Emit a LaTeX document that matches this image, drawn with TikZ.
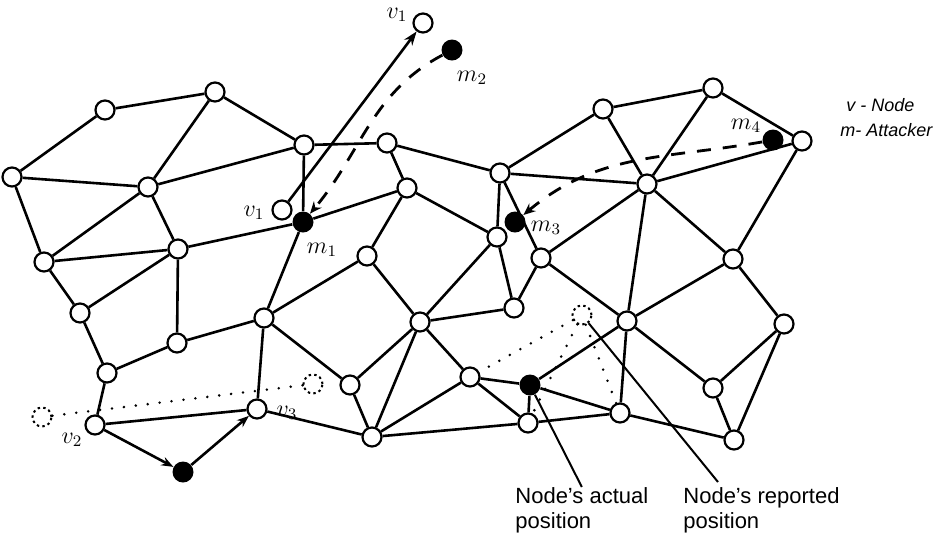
\documentclass[tikz,border=0pt]{standalone}
\usepackage{fontspec}
\setsansfont{Liberation Sans}
\usetikzlibrary{arrows.meta}

\tikzset{
  nd/.style={circle, draw, fill=white, line width=1.1pt, minimum size=9.5pt, inner sep=0pt},
  atk/.style={circle, fill=black, minimum size=10.5pt, inner sep=0pt},
  ghost/.style={circle, draw, line width=1pt, dash pattern=on 1.2pt off 1.6pt, minimum size=9.5pt, inner sep=0pt},
  lnk/.style={line width=1.3pt},
  mv/.style={line width=1.4pt, dash pattern=on 7pt off 6pt, -{Stealth[length=6pt,width=5pt]}},
  dots/.style={line width=1.4pt, line cap=round, dash pattern=on 0pt off 6pt},
  ptr/.style={line width=1pt},
  lbl/.style={font=\sffamily\fontsize{11}{12.5}\selectfont, align=left, inner sep=0pt},
  leg/.style={font=\sffamily\itshape\fontsize{9}{10}\selectfont, inner sep=0pt},
  tag/.style={font=\large, inner sep=0pt}
}

\begin{document}
\begin{tikzpicture}[x=0.5pt, y=-0.5pt]
  \useasboundingbox (0,0) rectangle (939,538);

  % honest nodes of the network
  \foreach \n/\x/\y in {a1/105/110, a2/215/92, a3/12/177, a4/148/187, a5/44/262,
      a6/178/249, a7/80/313, a8/177/343, a9/107/373, v2/95/425, v3/257/409,
      b1/304/145, b2/387/143, b3/407/188, b4/367/256, b5/264/318, b6/420/322,
      b7/350/385, b8/372/437, b9/470/377,
      c1/500/173, c2/497/237, c3/541/258, c4/514/308, c5/528/423,
      d1/603/109, d2/713/88, d3/647/184, d4/802/141, d5/733/259, d6/627/321,
      d7/784/324, d8/713/388, d9/620/413, d10/734/440,
      v1s/282/210, v1t/423/23}
    \node[nd] (\n) at (\x,\y) {};

  % attackers
  \foreach \n/\x/\y in {m1/303/222, m2/452/50, m3/515/222, m4/773/140, act/530/385, atk/183/472}
    \node[atk] (\n) at (\x,\y) {};

  % forged positions
  \foreach \n/\x/\y in {g1/42/417, g2/313/384, g3/582/315}
    \node[ghost] (\n) at (\x,\y) {};

  % links
  \foreach \a/\b in {a1/a2, a1/a3, a2/a4, a2/b1, a3/a4, a4/b1, a3/a5, a5/a4, a4/a6, a5/a6,
      a6/m1, a5/a7, a6/a7, a6/a8, a7/a9, a8/a9, a8/b5, a9/v2, v2/v3, b5/v3, b5/m1,
      b5/b4, b5/b7, b1/m1, b1/b2, b2/b3, b2/c1, b3/m1, b3/c2, b3/b4, b4/b6, b6/c2,
      b6/c4, c2/c4, c3/c4, c1/c2, c1/c3, c1/d1, c1/d3, d1/d2, d1/d3, d2/d3, d2/d4,
      d3/d4, c3/d3, c3/d6, d3/d6, d3/d5, d4/d5, d5/d6, d5/d7, d6/d8, d7/d8, d7/d10,
      d8/d10, d6/d9, d9/d10, b6/b7, b6/b8, b6/b9, b7/b8, v3/b8, b8/b9, b8/c5, b9/c5,
      b9/act, act/d6, act/d9, act/c5, c5/d9}
    \draw[lnk] (\a) -- (\b);

  % moves
  \draw[lnk, -{Stealth[length=7pt,width=5pt]}] (v1s) -- (v1t);
  \draw[lnk, -{Stealth[length=6pt,width=4.5pt]}] (v2) -- (atk);
  \draw[lnk, -{Stealth[length=6pt,width=4.5pt]}] (atk) -- (v3);
  \draw[mv] (m2) to[out=208, in=50] (m1);
  \draw[mv] (m4) to[out=190, in=40] (m3);

  \draw[dots] (g1) -- (g2);
  \draw[dots] (g3) -- (b9);
  \draw[dots] (g3) -- (c5);
  \draw[dots] (g3) -- (d9);

  % labels
  \node[tag] at (397,15) {$v_1$};
  \node[tag] at (472,78) {$m_2$};
  \node[tag] at (254,213) {$v_1$};
  \node[tag] at (322,250) {$m_1$};
  \node[tag] at (546,228) {$m_3$};
  \node[tag] at (746,126) {$m_4$};
  \node[tag] at (72,440) {$v_2$};
  \node[tag] at (287,413) {$v_3$};

  \node[leg, anchor=west] (leg1) at (846,105) {v - Node};
  \node[leg, anchor=west] (leg2) at (840,130) {m- Attacker};

  \node[lbl, anchor=north west] (lblA) at (515,487) {Node's actual\\position};
  \node[lbl, anchor=north west] (lblR) at (683,487) {Node's reported\\position};
  \coordinate (pr) at (718,482);
  \draw[ptr] (act) -- (lblA.north);
  \draw[ptr] (g3) -- (pr);
\end{tikzpicture}
\end{document}
